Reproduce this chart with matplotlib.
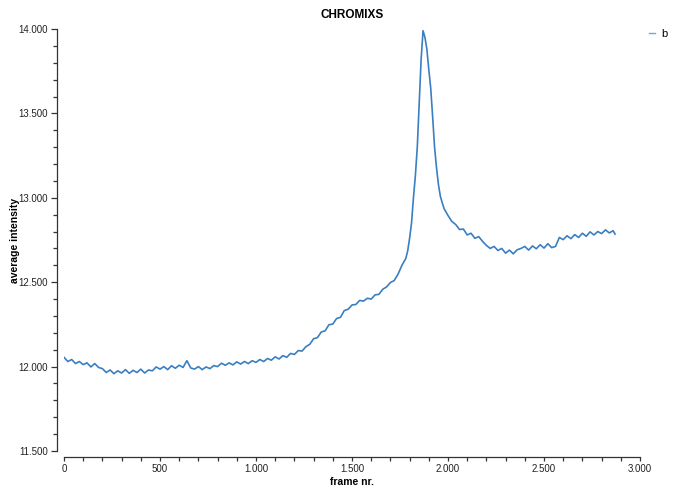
import matplotlib
matplotlib.use("Agg")
import matplotlib.pyplot as plt
from matplotlib.ticker import MultipleLocator, FuncFormatter

plt.rcParams['font.family'] = ['Liberation Sans', 'DejaVu Sans']

title = "CHROMIXS"
x_label = "frame nr."
y_label = "average intensity"
series_name = "b"

frames = (list(range(0, 1780, 20))
          + list(range(1780, 2000, 10))
          + list(range(2000, 2880, 20))
          + [2870])

intensity = [
    # 0 - 180
    12.055, 12.030, 12.042, 12.018, 12.030, 12.012, 12.022, 11.998, 12.018, 11.995,
    # 200 - 380
    11.988, 11.965, 11.980, 11.958, 11.975, 11.962, 11.982, 11.960, 11.978, 11.965,
    # 400 - 580
    11.985, 11.962, 11.980, 11.975, 11.998, 11.985, 12.000, 11.982, 12.005, 11.990,
    # 600 - 780
    12.008, 11.995, 12.035, 11.992, 11.985, 12.000, 11.982, 11.998, 11.988, 12.006,
    # 800 - 980
    12.000, 12.020, 12.008, 12.022, 12.010, 12.028, 12.015, 12.030, 12.018, 12.035,
    # 1000 - 1180
    12.025, 12.042, 12.030, 12.048, 12.038, 12.058, 12.045, 12.065, 12.055, 12.078,
    # 1200 - 1380
    12.072, 12.095, 12.092, 12.118, 12.132, 12.165, 12.172, 12.205, 12.212, 12.248,
    # 1400 - 1580
    12.252, 12.285, 12.292, 12.332, 12.340, 12.365, 12.368, 12.392, 12.388, 12.405,
    # 1600 - 1760
    12.400, 12.425, 12.428, 12.458, 12.472, 12.498, 12.510, 12.548, 12.600,
    # 1780 - 1990 (step 10)
    12.640, 12.685, 12.760, 12.850, 13.000, 13.130, 13.300, 13.560, 13.820, 13.990,
    13.950, 13.880, 13.760, 13.650, 13.480, 13.300, 13.180, 13.080, 13.010, 12.970,
    12.935, 12.915,
    # 2000 - 2180
    12.895, 12.860, 12.842, 12.812, 12.815, 12.780, 12.790, 12.760, 12.770, 12.742,
    # 2200 - 2380
    12.718, 12.700, 12.712, 12.688, 12.700, 12.672, 12.690, 12.668, 12.692, 12.700,
    # 2400 - 2580
    12.712, 12.690, 12.715, 12.698, 12.722, 12.702, 12.728, 12.705, 12.712, 12.765,
    # 2600 - 2780
    12.752, 12.775, 12.758, 12.782, 12.765, 12.790, 12.772, 12.798, 12.780, 12.800,
    # 2800 - 2860
    12.788, 12.810, 12.792, 12.805,
    # 2870
    12.785,
]

line_color = "#3a7fc2"
axis_color = "#333333"

fig = plt.figure(figsize=(6.73, 4.88), dpi=100)
ax = fig.add_axes([64 / 673, 37 / 488, 576 / 673, 422 / 488])

ax.plot(frames, intensity, color=line_color, lw=1.2, label=series_name)

ax.set_xlim(0, 3000)
ax.set_ylim(11.5, 14.0)

for s in ("top", "right"):
    ax.spines[s].set_visible(False)
ax.spines["left"].set_position(("outward", 5))
ax.spines["bottom"].set_position(("outward", 4.3))
ax.spines["left"].set_bounds(11.5, 14.0)
ax.spines["bottom"].set_bounds(0, 3000)
for s in ("left", "bottom"):
    ax.spines[s].set_color(axis_color)
    ax.spines[s].set_linewidth(0.9)

ax.xaxis.set_major_locator(MultipleLocator(500))
ax.xaxis.set_minor_locator(MultipleLocator(100))
ax.yaxis.set_major_locator(MultipleLocator(0.5))
ax.yaxis.set_minor_locator(MultipleLocator(0.1))
ax.xaxis.set_major_formatter(FuncFormatter(lambda v, p: f"{int(round(v)):,}".replace(",", ".")))
ax.yaxis.set_major_formatter(FuncFormatter(lambda v, p: f"{v:.3f}"))

ax.tick_params(axis="x", which="major", length=3.2, width=0.9, color=axis_color,
               labelsize=7, labelcolor="#222222", pad=1.5)
ax.tick_params(axis="x", which="minor", length=3.0, width=0.9, color=axis_color)
ax.tick_params(axis="y", which="major", length=4.5, width=0.9, color=axis_color,
               labelsize=7, labelcolor="#222222", pad=2)
ax.tick_params(axis="y", which="minor", length=2.8, width=0.9, color=axis_color)

ax.set_title(title, fontsize=8.5, fontweight="bold", pad=7.7)
ax.set_xlabel(x_label, fontsize=7.5, fontweight="bold")
ax.set_ylabel(y_label, fontsize=7.5, fontweight="bold")
ax.xaxis.set_label_coords(0.5, -0.062)
ax.yaxis.set_label_coords(-0.076, 0.5)

leg = ax.legend(loc="upper left", bbox_to_anchor=(0.958, 0.949),
                bbox_transform=fig.transFigure, frameon=False, fontsize=8,
                handlelength=0.5, handletextpad=0.6, borderaxespad=0)
for h in leg.get_lines():
    h.set_linewidth(1.0)
    h.set_alpha(0.7)

fig.savefig("out.png", dpi=100)
